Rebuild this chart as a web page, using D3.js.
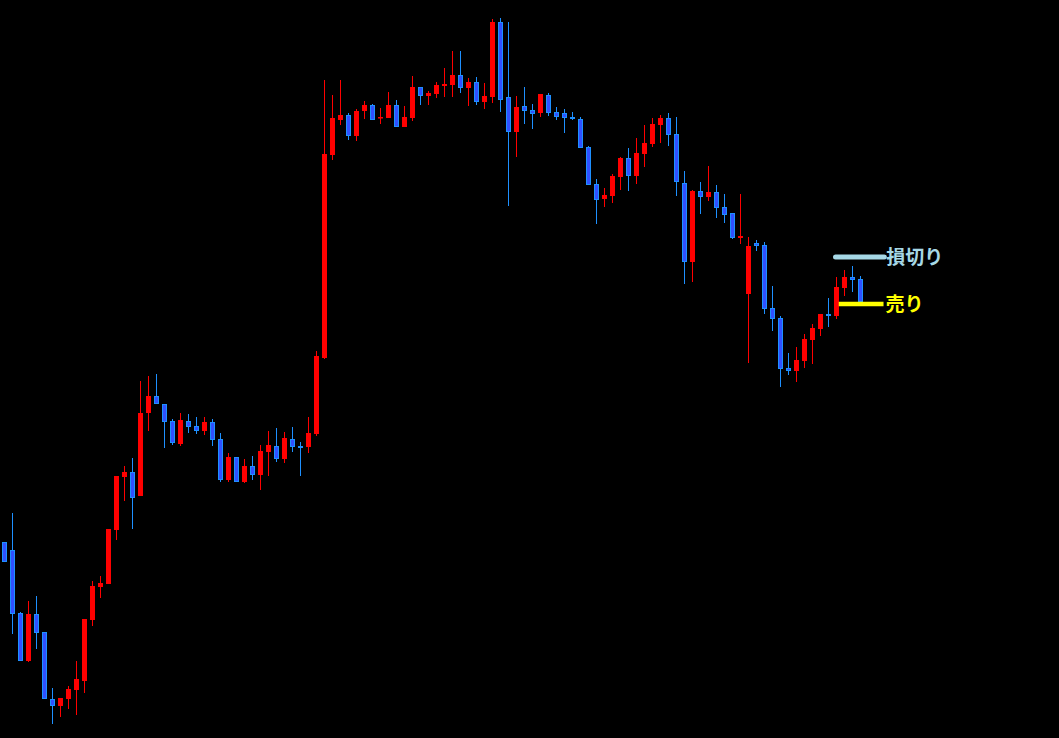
<!DOCTYPE html>
<html>
<head>
<meta charset="utf-8">
<script src="https://cdn.jsdelivr.net/npm/d3@7"></script>
<style>
  html, body { margin: 0; padding: 0; background: #000; overflow: hidden; }
  svg { display: block; }
</style>
</head>
<body>
<svg id="chart" width="1059" height="738"></svg>
<script>
// OHLC values (arbitrary price units)
const opens  = [458,450,387,339,386,368,301,294,301,310,319,380,413,416,470,523,528,504,587,604,596,579,556,579,574,569,578,561,520,543,518,534,525,548,554,541,561,554,553,566,642,845,880,885,864,889,895,882,882,895,873,882,913,904,906,914,915,925,912,918,898,903,978,903,868,894,890,887,905,888,887,883,881,853,816,801,804,823,842,824,846,856,875,882,866,817,738,809,803,808,793,787,762,706,757,755,692,682,632,629,639,660,671,686,684,712,723,721];
const highs  = [458,487,388,399,404,368,312,302,314,339,381,419,424,471,524,534,542,619,624,626,596,581,587,586,583,583,581,567,547,543,541,544,555,569,572,568,573,558,583,649,920,905,920,887,891,899,896,892,908,900,894,924,913,909,918,932,949,949,922,923,917,981,982,978,904,913,896,906,907,893,891,888,883,854,821,812,826,843,852,862,875,882,885,887,883,829,810,818,834,815,806,787,806,763,760,758,714,684,647,653,666,676,686,702,723,730,734,724];
const lows   = [438,366,339,338,351,301,276,283,291,285,307,374,402,416,460,499,471,504,569,596,552,555,554,567,566,565,554,518,518,518,517,520,510,524,538,537,548,524,547,564,641,840,875,860,859,881,880,876,882,873,873,879,895,895,902,903,903,907,894,895,891,897,888,794,843,876,871,883,884,880,867,880,852,815,776,793,797,810,809,816,833,853,857,854,804,716,718,786,799,782,777,761,756,637,749,686,669,613,625,618,632,636,664,673,681,704,708,698];
const closes = [438,386,339,386,367,301,294,302,311,321,381,414,417,471,524,528,502,587,604,596,578,557,580,573,569,578,560,520,543,518,534,525,549,555,541,562,553,552,567,644,846,882,885,864,889,895,880,883,895,873,883,913,904,907,915,916,925,912,918,898,904,978,900,868,893,889,886,906,887,883,882,881,852,815,800,805,824,842,824,847,857,876,882,865,818,738,809,803,808,792,785,762,764,754,754,691,681,631,629,640,661,672,686,684,713,723,720,698];

// Trade levels and their labels
const levelNames  = ["損切り", "売り"];
const levelValues = [743, 696];
const levelColors = ["#a6d8e6", "#ffff00"];

const W = 1059, H = 738;
const svg = d3.select("#chart");
svg.append("rect").attr("width", W).attr("height", H).attr("fill", "#000");

const candles = opens.map((o, i) => ({ i, o, h: highs[i], l: lows[i], c: closes[i] }));

const x = d3.scaleLinear().domain([0, candles.length - 1]).range([4.33, 860.33]);
const y = d3.scaleLinear().domain([262, 1000]).range([H, 0]);

const UP = "#ff0000", DOWN_WICK = "#1e90ff", DOWN_FILL = "#3050ff";
const bodyW = 5;

const g = svg.append("g");

// wicks
g.selectAll("line.wick").data(candles).join("line")
  .attr("class", "wick")
  .attr("x1", d => Math.round(x(d.i)) + 0.5)
  .attr("x2", d => Math.round(x(d.i)) + 0.5)
  .attr("y1", d => y(d.h))
  .attr("y2", d => y(d.l))
  .attr("stroke", d => d.c >= d.o ? UP : DOWN_WICK)
  .attr("stroke-width", 1)
  .attr("shape-rendering", "crispEdges");

// bodies
g.selectAll("rect.body").data(candles).join("rect")
  .attr("class", "body")
  .attr("x", d => d.c >= d.o ? Math.round(x(d.i)) - 2 : Math.round(x(d.i)) - 1.5)
  .attr("width", d => d.c >= d.o ? bodyW : bodyW - 1)
  .attr("y", d => d.c >= d.o ? y(Math.max(d.o, d.c)) : y(Math.max(d.o, d.c)) + 0.5)
  .attr("height", d => {
    const hgt = Math.abs(y(d.o) - y(d.c));
    return d.c >= d.o ? Math.max(hgt, 1.5) : Math.max(hgt - 1, 1);
  })
  .attr("fill", d => d.c >= d.o ? UP : DOWN_FILL)
  .attr("stroke", d => d.c >= d.o ? "none" : DOWN_WICK)
  .attr("stroke-width", 1);

// level lines and labels
const lineStart = [103.9, 104.3];
const lineEnd = [110, 109.9];
const lineWidth = [5, 4.5];
levelValues.forEach((v, k) => {
  svg.append("line")
    .attr("x1", x(lineStart[k])).attr("x2", x(lineEnd[k]))
    .attr("y1", y(v)).attr("y2", y(v))
    .attr("stroke", levelColors[k])
    .attr("stroke-width", lineWidth[k])
    .attr("stroke-linecap", k === 0 ? "round" : "butt");
  svg.append("text")
    .attr("x", x(lineEnd[k]) + 2)
    .attr("y", y(v))
    .attr("dy", "0.36em")
    .attr("fill", levelColors[k])
    .attr("font-family", "'Noto Sans CJK JP', 'Noto Sans', sans-serif")
    .attr("font-weight", "bold")
    .attr("font-size", 19)
    .text(levelNames[k]);
});
</script>
</body>
</html>
